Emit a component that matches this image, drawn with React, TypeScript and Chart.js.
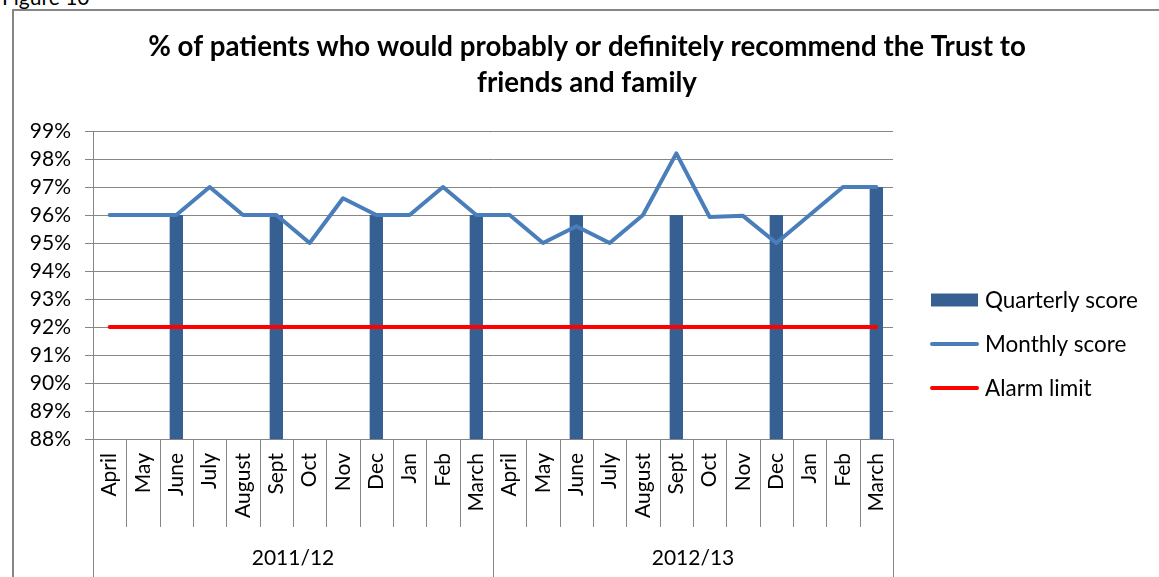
import React, { useEffect, useRef } from 'react';
import { Chart, registerables } from 'chart.js';

Chart.register(...registerables);

// ---------- data ----------
const monthNames = ['April', 'May', 'June', 'July', 'August', 'Sept', 'Oct', 'Nov', 'Dec', 'Jan', 'Feb', 'March'];
const yearGroups = ['2011/12', '2012/13'];
const categories = [...monthNames, ...monthNames];

const quarterlyScore = [
  null, null, 96, null, null, 96, null, null, 96, null, null, 96,
  null, null, 96, null, null, 96, null, null, 96, null, null, 97,
];
const monthlyScore = [
  96, 96, 96, 97, 96, 96, 95, 96.6, 96, 96, 97, 96,
  96, 95, 95.6, 95, 96, 98.2, 95.93, 95.97, 95, 96, 97, 97,
];
const alarmLimit = [
  92, 92, 92, 92, 92, 92, 92, 92, 92, 92, 92, 92,
  92, 92, 92, 92, 92, 92, 92, 92, 92, 92, 92, 92,
];
const yMin = 88;
const yMax = 99;
const titleLines = [
  '% of patients who would probably or definitely recommend the Trust to',
  'friends and family',
];
const figureLabel = 'Figure 10';

// ---------- styles ----------
const FONT = 'Lato';
const GRAY = '#868686';
const BAR = '#376092';
const LINE = '#4A7EBB';
const RED = '#FF0000';

const fitFont = (ctx: CanvasRenderingContext2D, text: string, target: number, weight: string) => {
  ctx.font = `${weight} 100px ${FONT}`;
  const w = ctx.measureText(text).width;
  return (100 * target) / w;
};

const decorPlugin = {
  id: 'decor',
  afterDraw(chart: any) {
    const ctx: CanvasRenderingContext2D = chart.ctx;
    const xs = chart.scales.x;
    const area = chart.chartArea;
    const n = chart.data.labels.length;
    const w = xs.width / n;
    ctx.save();
    // category separators
    ctx.strokeStyle = GRAY;
    ctx.lineWidth = 1;
    for (let i = 0; i <= n; i++) {
      const bx = Math.round(xs.left + i * w) + 0.5;
      const long = i % monthNames.length === 0;
      ctx.beginPath();
      ctx.moveTo(bx, area.bottom);
      ctx.lineTo(bx, long ? chart.height + 5 : area.bottom + 88);
      ctx.stroke();
    }
    // year group labels
    ctx.fillStyle = '#000';
    ctx.font = `21px ${FONT}`;
    ctx.textAlign = 'center';
    ctx.textBaseline = 'middle';
    yearGroups.forEach((g, gi) => {
      const x0 = xs.left + gi * monthNames.length * w;
      const x1 = xs.left + (gi + 1) * monthNames.length * w;
      ctx.fillText(g, (x0 + x1) / 2, area.bottom + 119);
    });

    // title
    const tSize = fitFont(ctx, titleLines[0], 878, 'bold');
    ctx.font = `bold ${tSize}px ${FONT}`;
    ctx.textBaseline = 'alphabetic';
    ctx.fillText(titleLines[0], 587, 56);
    ctx.fillText(titleLines[1], 587, 92);

    // legend
    const lSize = fitFont(ctx, 'Quarterly score', 153, 'normal');
    ctx.font = `${lSize}px ${FONT}`;
    ctx.textAlign = 'left';
    ctx.textBaseline = 'middle';
    const ds = chart.data.datasets;
    const ly0 = 300;
    const gap = 44;
    ds.forEach((d: any, i: number) => {
      const cy = ly0 + i * gap;
      if (d.type === 'bar') {
        ctx.fillStyle = d.backgroundColor;
        ctx.fillRect(931, cy - 6.5, 47, 13);
      } else {
        ctx.strokeStyle = d.borderColor;
        ctx.lineWidth = 4;
        ctx.lineCap = 'round';
        ctx.beginPath();
        ctx.moveTo(932, cy);
        ctx.lineTo(977, cy);
        ctx.stroke();
      }
      ctx.fillStyle = '#000';
      ctx.fillText(d.label, 985, cy + 1);
    });
    ctx.restore();
  },
};

export default function App() {
  const ref = useRef<HTMLCanvasElement>(null);
  useEffect(() => {
    let chart: Chart | null = null;
    let cancelled = false;
    const make = () => {
      if (cancelled || !ref.current) return;
      chart = new Chart(ref.current, {
        type: 'bar',
        data: {
          labels: categories,
          datasets: [
            {
              type: 'bar',
              label: 'Quarterly score',
              data: quarterlyScore as any,
              backgroundColor: BAR,
              barPercentage: 0.4,
              categoryPercentage: 1,
              order: 3,
            },
            {
              type: 'line',
              label: 'Monthly score',
              data: monthlyScore,
              borderColor: LINE,
              borderWidth: 4,
              pointRadius: 0,
              tension: 0,
              borderJoinStyle: 'round',
              borderCapStyle: 'round',
              order: 2,
            } as any,
            {
              type: 'line',
              label: 'Alarm limit',
              data: alarmLimit,
              borderColor: RED,
              borderWidth: 4,
              pointRadius: 0,
              tension: 0,
              borderCapStyle: 'round',
              order: 1,
            } as any,
          ],
        },
        options: {
          responsive: false,
          animation: false,
          devicePixelRatio: 1,
          layout: { padding: { left: 0, top: 131, right: 266, bottom: 0 } },
          plugins: {
            legend: { display: false },
            title: { display: false },
            tooltip: { enabled: false },
          },
          scales: {
            x: {
              grid: { display: false, drawTicks: false },
              border: { display: true, color: GRAY, width: 1 },
              ticks: {
                autoSkip: false,
                minRotation: 90,
                maxRotation: 90,
                padding: 14,
                color: '#000',
                font: { family: FONT, size: 21 },
              },
              afterFit: (s: any) => {
                s.height = 138;
              },
            },
            y: {
              min: yMin,
              max: yMax,
              grid: { color: GRAY, lineWidth: 1, tickLength: 8 },
              border: { display: true, color: GRAY, width: 1 },
              ticks: {
                stepSize: 1,
                autoSkip: false,
                padding: 14,
                color: '#000',
                font: { family: FONT, size: 21 },
                callback: (v: any) => `${v}%`,
              },
              afterFit: (s: any) => {
                s.width = 93;
              },
            },
          },
        },
        plugins: [decorPlugin],
      });
    };
    const fonts = (document as any).fonts;
    if (fonts && fonts.load) {
      Promise.all([fonts.load(`21px ${FONT}`), fonts.load(`bold 21px ${FONT}`)]).then(make, make);
    } else {
      make();
    }
    return () => {
      cancelled = true;
      if (chart) chart.destroy();
    };
  }, []);

  return (
    <div style={{ position: 'fixed', left: 0, top: 0, width: 1159, height: 577, overflow: 'hidden', background: '#fff' }}>
      <div
        style={{
          position: 'absolute',
          left: 2,
          top: -16,
          fontFamily: FONT,
          fontSize: 21,
          lineHeight: '25px',
          color: '#000',
        }}
      >
        {figureLabel}
      </div>
      <div
        style={{
          position: 'absolute',
          left: 12,
          top: 9,
          width: 1300,
          height: 700,
          borderLeft: `2px solid ${GRAY}`,
          borderTop: `2px solid ${GRAY}`,
        }}
      />
      <canvas ref={ref} width={1159} height={577} style={{ position: 'absolute', left: 0, top: 0, display: 'block' }} />
    </div>
  );
}
